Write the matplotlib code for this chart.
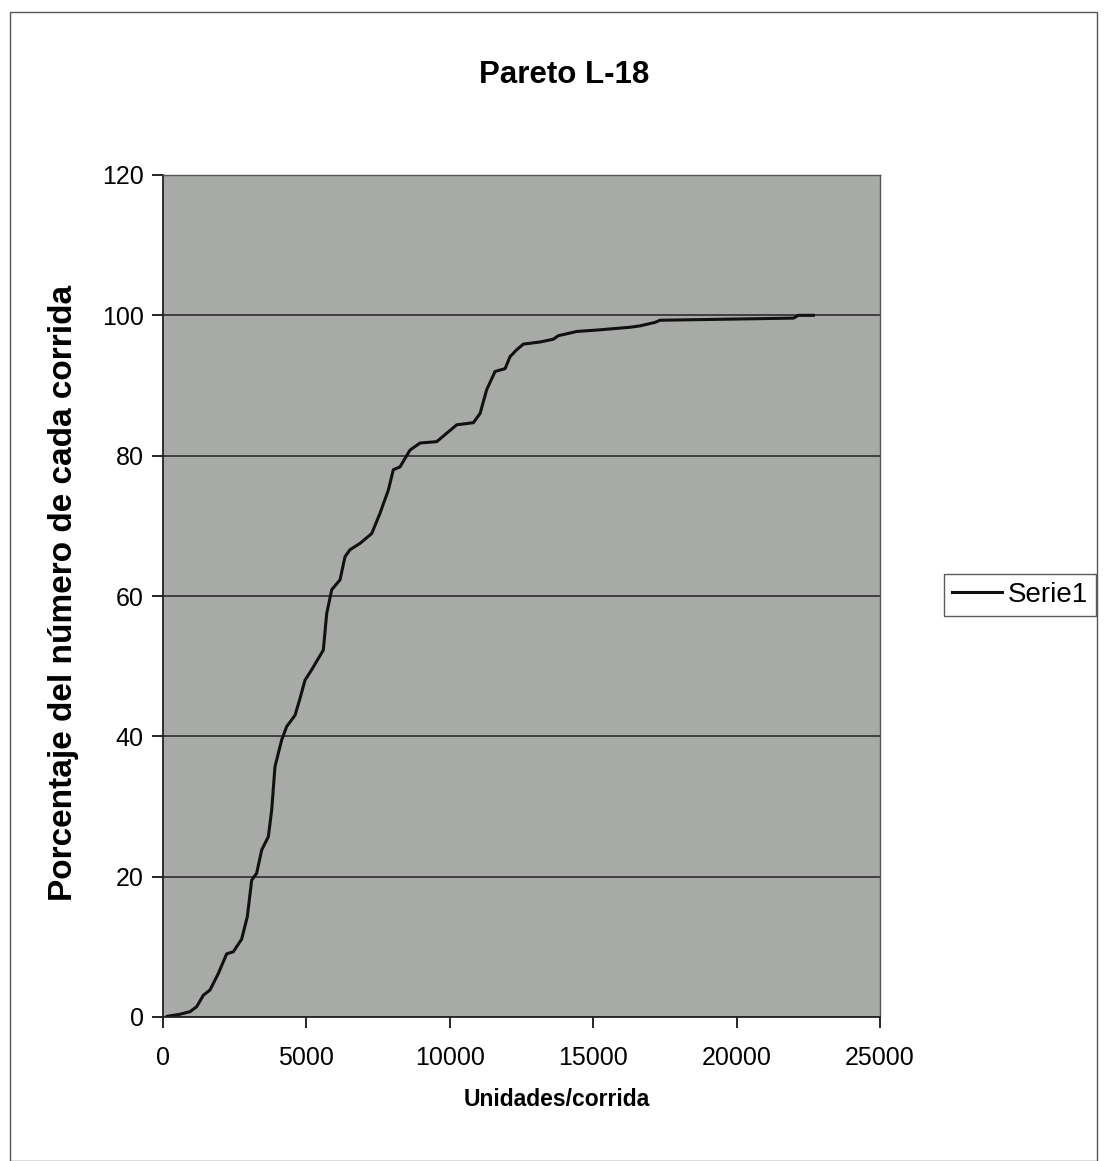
import matplotlib
matplotlib.use("Agg")
import matplotlib.pyplot as plt
import matplotlib.patches as patches

plt.rcParams['font.family'] = ['Liberation Sans', 'DejaVu Sans']

# datos (unidades/corrida, porcentaje acumulado)
unidades = [150, 600, 941, 1174, 1406, 1639, 1929, 2220, 2452, 2743, 2940,
            3092, 3266, 3441, 3673, 3790, 3905, 4139, 4313, 4603, 4777,
            4951, 5185, 5590, 5708, 5883, 6172, 6346, 6521, 6870, 7277,
            7567, 7857, 8031, 8264, 8613, 8962, 9544, 9893, 10242, 10821,
            11054, 11287, 11577, 11926, 12100, 12333, 12565, 13146, 13611,
            13786, 14426, 15123, 16285, 16634, 17157, 17331, 21980, 22155,
            22678]
porcentaje = [0.1, 0.4, 0.76, 1.47, 3.1, 3.85, 6.2, 9.0, 9.3, 11.1, 14.3,
              19.5, 20.5, 23.8, 25.7, 29.5, 35.7, 39.5, 41.4, 43.0, 45.4,
              48.0, 49.5, 52.3, 57.5, 60.9, 62.3, 65.6, 66.6, 67.5, 68.9,
              71.8, 75.1, 78.0, 78.4, 80.8, 81.8, 82.0, 83.2, 84.4, 84.7,
              86.0, 89.4, 92.0, 92.4, 94.1, 95.1, 95.9, 96.2, 96.6,
              97.1, 97.7, 97.9, 98.3, 98.5, 99.0, 99.3, 99.6, 100.0,
              100.0]
xticks = [0, 5000, 10000, 15000, 20000, 25000]
yticks = [0, 20, 40, 60, 80, 100, 120]

fig = plt.figure(figsize=(11.07, 11.61), dpi=100)
fig.patch.set_facecolor("white")
fig.patches.append(patches.Rectangle((10/1107, 0.0), 1087/1107, 1 - 12/1161,
                                     transform=fig.transFigure, fill=False,
                                     ec="#555555", lw=1.0))

ax = fig.add_axes([163/1107, 1 - 1017/1161, 717/1107, 842/1161])
ax.set_facecolor("#a8aaa7")
ax.plot(unidades, porcentaje, color="#111111", lw=2.2, label="Serie1")

ax.set_xlim(0, 25000)
ax.set_ylim(0, 120)
ax.set_xticks(xticks)
ax.set_yticks(yticks)
ax.yaxis.grid(True, color="#222222", lw=1.1)
ax.set_axisbelow(True)
ax.tick_params(axis="both", direction="out", length=8, width=1.2,
               labelsize=18)
ax.tick_params(axis="x", pad=13)
ax.tick_params(axis="y", pad=6)

for s in ["left", "bottom"]:
    ax.spines[s].set_color("#222222")
    ax.spines[s].set_linewidth(1.3)
for s in ["top", "right"]:
    ax.spines[s].set_color("#555555")
    ax.spines[s].set_linewidth(1.0)

ax.set_xlabel("Unidades/corrida", fontsize=16.5, fontweight="bold")
ax.xaxis.set_label_coords((557 - 163) / 717, -(1100 - 1017) / 842)
ax.xaxis.label.set_va("center")
ax.set_ylabel("Porcentaje del número de cada corrida", fontsize=24,
              fontweight="bold")
ax.yaxis.set_label_coords(-(163 - 64) / 717, (1017 - 593) / 842)
ax.yaxis.label.set_va("center")
fig.text(564/1107, 1 - 75/1161, "Pareto L-18", fontsize=22.5,
         fontweight="bold", ha="center", va="center")

leg = ax.legend(loc="center left", bbox_to_anchor=(944/1107, 1 - 595/1161),
                bbox_transform=fig.transFigure, fontsize=20, frameon=True,
                fancybox=False, edgecolor="#333333", handlelength=1.8,
                handletextpad=0.2, borderpad=0.3, borderaxespad=0)
leg.get_frame().set_linewidth(1.0)

fig.savefig("out.png", dpi=100)
plt.close()
